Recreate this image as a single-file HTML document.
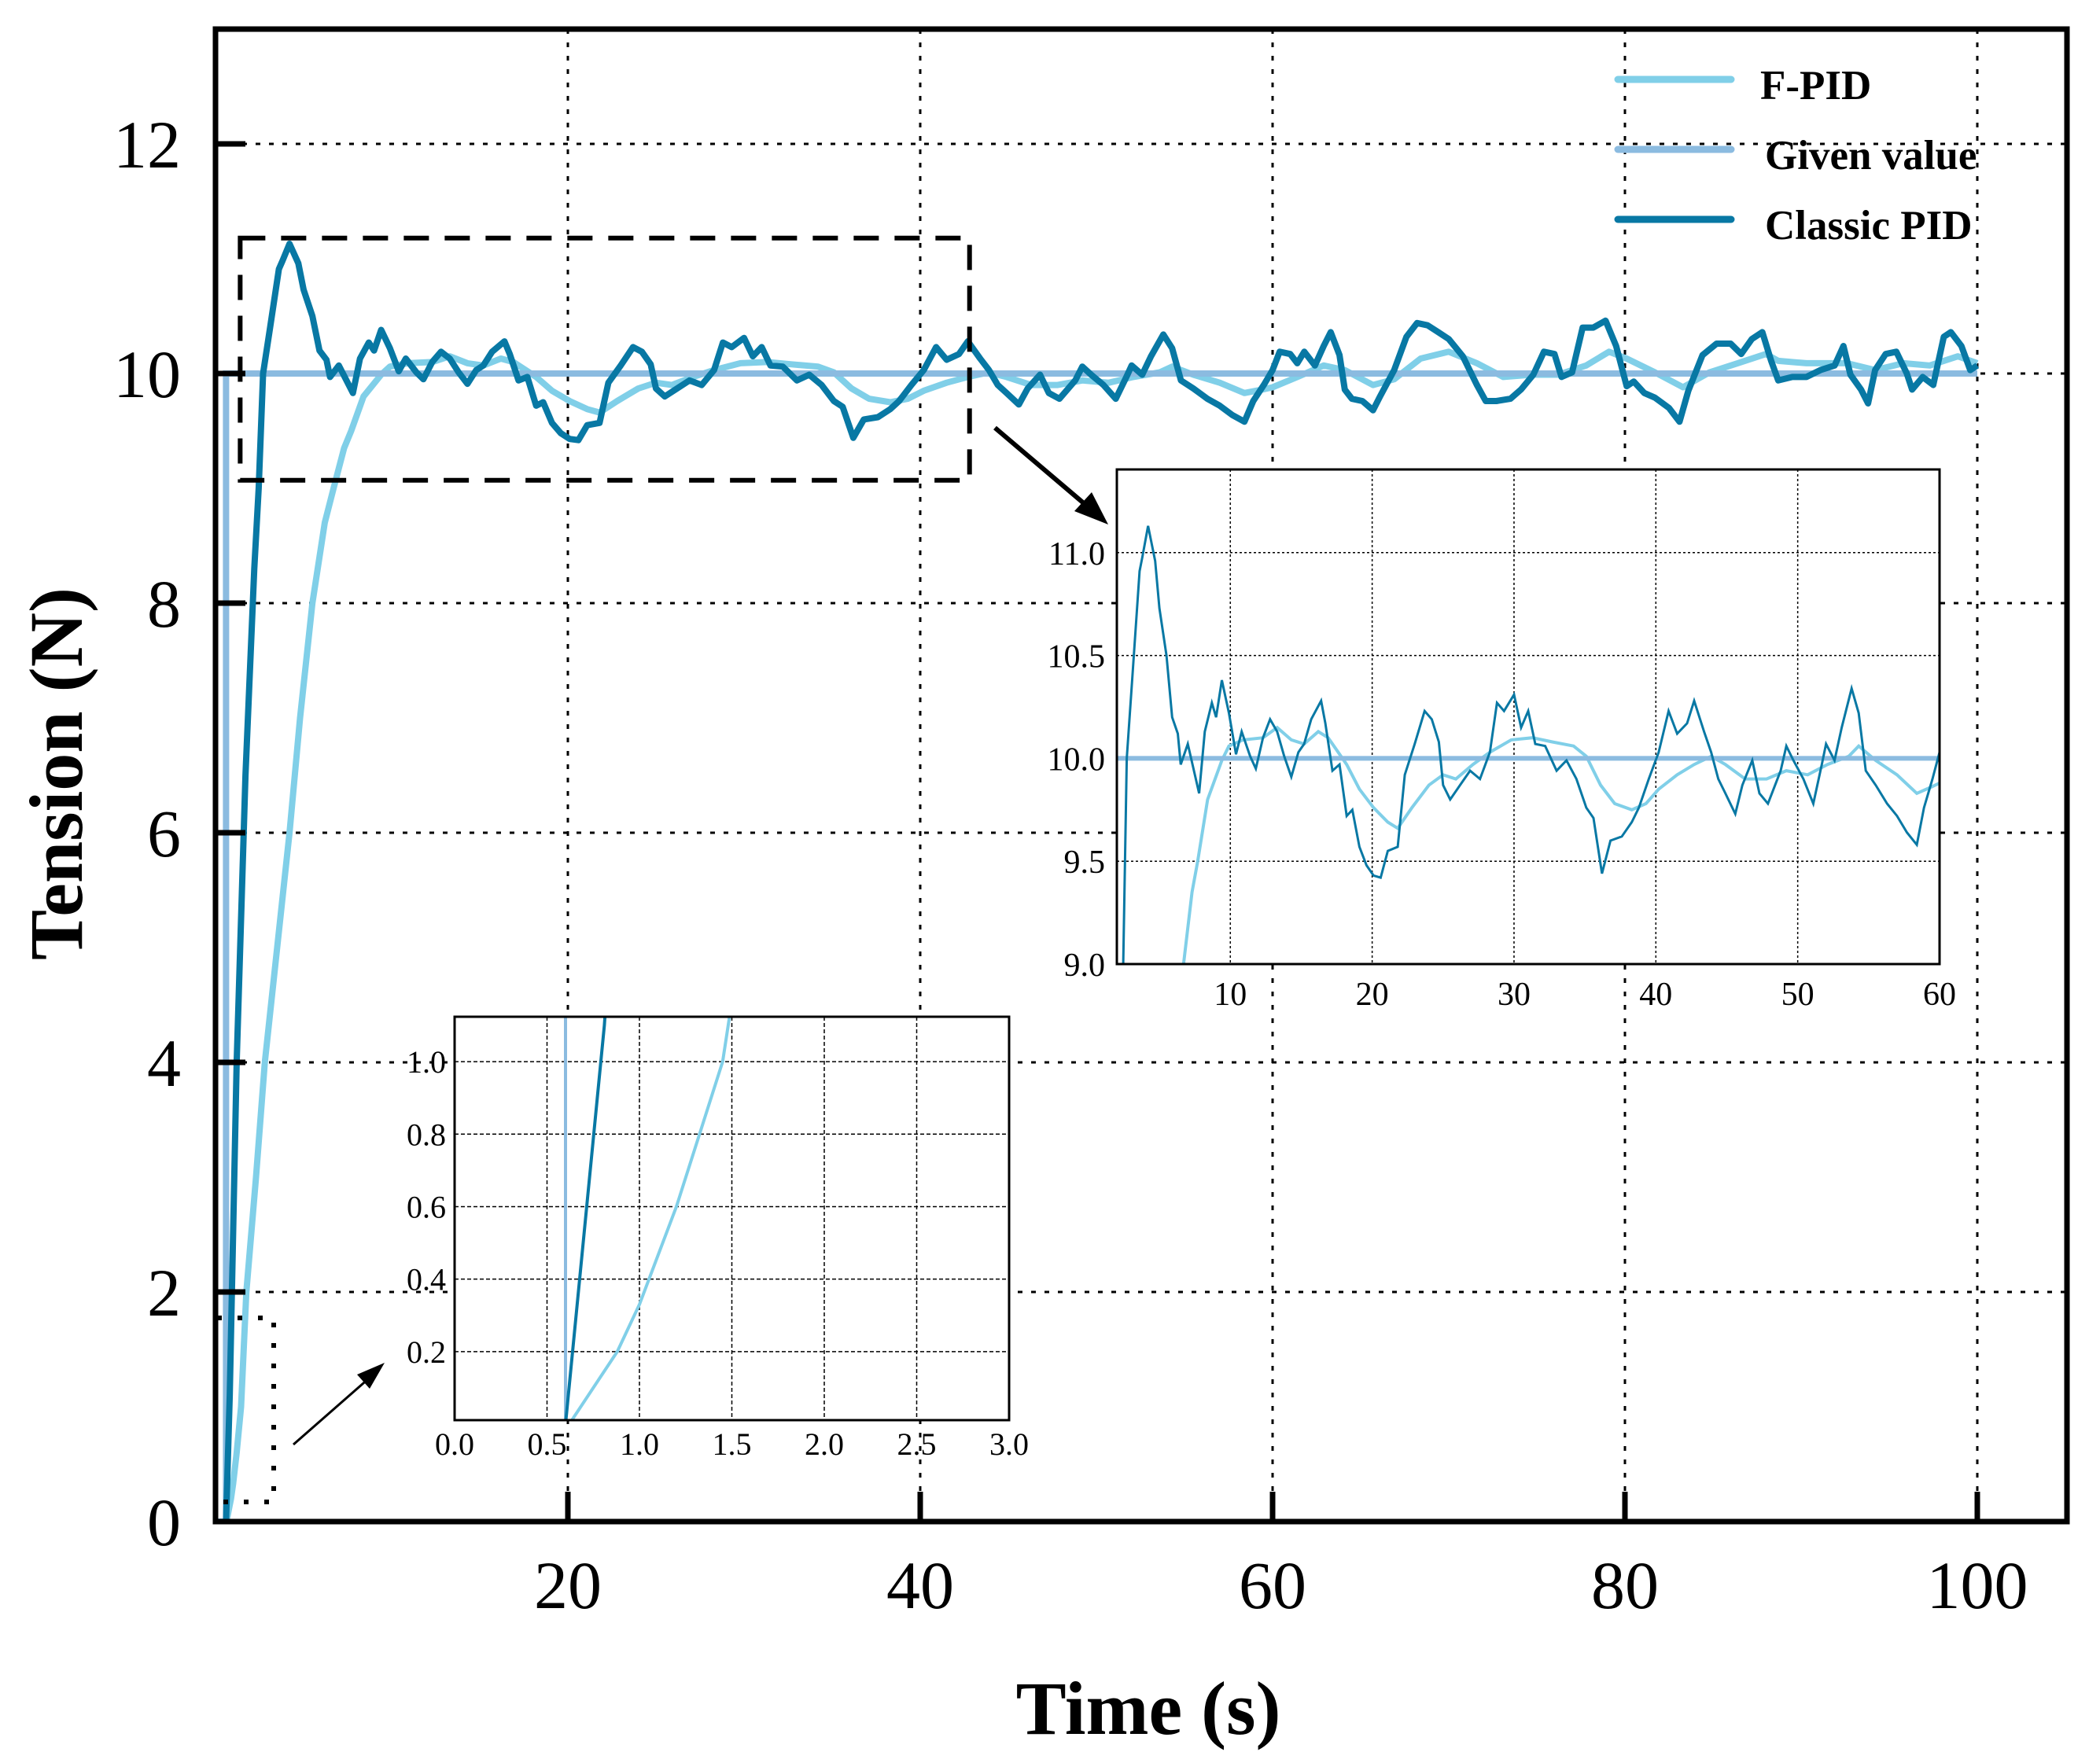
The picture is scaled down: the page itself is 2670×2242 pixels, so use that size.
<!DOCTYPE html>
<html><head><meta charset="utf-8"><style>
html,body{margin:0;padding:0;background:#fff;width:2670px;height:2242px;overflow:hidden;}
svg{display:block;}
text{font-family:"Liberation Serif",serif;fill:#000;}
</style></head>
<body>
<svg id="chart" width="2670" height="2242" viewBox="0 0 2670 2242" xmlns="http://www.w3.org/2000/svg"></svg>
<script>
// ---- data ----
const givenT = [0, 0.6, 0.6, 100];
const givenV = [0, 0, 10, 10];
const fpidT = [0.62,0.88,1.0,1.2,1.45,1.75,2.3,2.8,3.5,4.2,4.8,5.5,6.2,6.7,7.3,7.7,8.4,9.4,9.9,10.9,12.3,13.3,14.3,15.2,16.2,16.9,18.2,19.1,20.1,21.1,21.8,22.8,24.0,25.0,25.9,27.1,28.3,29.8,31.3,32.7,34.2,35.1,36.1,37.1,38.3,39.3,40.2,41.5,42.7,43.9,44.9,46.3,47.8,49.2,50.7,52.1,53.6,54.3,55.5,57.0,58.4,59.4,60,61.4,62.9,64.1,65.7,66.9,68.4,70.0,71.6,73.1,74.7,76.2,77.8,79.1,80.1,81.7,83.3,84.8,86.4,88.0,88.7,90.3,92.6,94.2,95.8,97.3,98.9,100];
const fpidV = [0,0.2,0.33,0.6,1.0,2,3,4,5,6,7,8,8.7,9.0,9.35,9.5,9.8,9.99,10.06,10.09,10.10,10.15,10.09,10.07,10.13,10.10,9.97,9.85,9.76,9.69,9.66,9.76,9.87,9.92,9.90,9.97,10.03,10.09,10.10,10.08,10.06,10.01,9.87,9.78,9.75,9.78,9.85,9.92,9.97,10.01,9.97,9.90,9.90,9.94,9.92,9.97,10.01,10.06,9.99,9.92,9.83,9.86,9.88,9.97,10.07,10.03,9.90,9.95,10.13,10.19,10.09,9.97,9.99,9.99,10.07,10.19,10.13,10.01,9.88,10.01,10.09,10.17,10.11,10.09,10.09,10.03,10.09,10.07,10.15,10.09];
const classicT = [0.6,0.81,1.2,1.7,2.2,2.45,2.7,3.1,3.6,3.8,4.2,4.7,5.0,5.5,5.9,6.3,6.5,7.0,7.5,7.8,8.2,8.7,9.0,9.4,9.9,10.4,10.8,11.4,11.8,12.3,12.8,13.3,13.8,14.3,14.8,15.2,15.7,16.4,16.7,17.2,17.7,18.2,18.6,19.1,19.6,20.1,20.6,21.1,21.8,22.3,23.0,23.7,24.2,24.7,25.0,25.5,26.2,26.9,27.6,28.3,28.8,29.3,30.0,30.5,31.0,31.5,32.2,33.0,33.7,34.4,35.1,35.6,36.2,36.8,37.6,38.3,38.8,39.5,40.2,40.9,41.5,42.2,42.7,43.4,43.9,44.4,44.9,45.6,46.1,46.8,47.3,47.9,48.8,49.2,49.7,50.4,51.1,51.7,52.0,52.6,53.1,53.8,54.3,54.8,55.5,56.3,57.0,57.7,58.4,58.9,59.5,60.0,60.4,61.0,61.4,61.8,62.4,62.9,63.3,63.8,64.1,64.5,65.1,65.7,66.1,66.9,67.6,68.2,68.8,69.4,70.0,70.8,71.6,72.1,72.7,73.5,74.1,74.8,75.4,76.0,76.4,77.0,77.6,78.2,78.9,79.5,80.1,80.5,81.1,81.7,82.5,83.1,83.6,84.4,85.2,86.0,86.6,87.2,87.8,88.3,88.7,89.5,90.3,91.1,91.9,92.4,92.8,93.4,93.8,94.2,94.8,95.4,96.0,96.3,96.9,97.5,98.1,98.5,99.1,99.6,100.0];
const classicV = [0,1.1,4,6.5,8.3,9.0,10.0,10.4,10.91,10.98,11.13,10.96,10.73,10.50,10.20,10.12,9.97,10.07,9.92,9.83,10.13,10.27,10.20,10.38,10.22,10.02,10.13,10.01,9.95,10.10,10.19,10.13,10.01,9.91,10.03,10.07,10.19,10.28,10.17,9.94,9.97,9.72,9.75,9.57,9.48,9.43,9.42,9.55,9.57,9.92,10.07,10.23,10.19,10.08,9.87,9.80,9.87,9.94,9.90,10.03,10.27,10.23,10.31,10.15,10.23,10.07,10.06,9.94,9.99,9.90,9.76,9.71,9.44,9.60,9.62,9.69,9.76,9.90,10.03,10.23,10.12,10.17,10.28,10.13,10.03,9.90,9.83,9.73,9.87,9.99,9.83,9.78,9.94,10.06,9.99,9.90,9.78,9.97,10.07,9.99,10.15,10.34,10.22,9.94,9.87,9.78,9.72,9.64,9.58,9.76,9.90,10.03,10.19,10.17,10.09,10.19,10.07,10.24,10.36,10.16,9.86,9.78,9.76,9.68,9.80,10.03,10.32,10.44,10.42,10.36,10.30,10.15,9.90,9.76,9.76,9.78,9.86,9.99,10.19,10.17,9.97,10.01,10.40,10.40,10.46,10.24,9.89,9.93,9.83,9.79,9.70,9.58,9.85,10.16,10.26,10.26,10.17,10.30,10.36,10.11,9.94,9.97,9.97,10.03,10.07,10.24,9.99,9.86,9.74,10.03,10.17,10.19,10.00,9.86,9.97,9.90,10.32,10.36,10.24,10.03,10.07];
const mainXTicks = [20,40,60,80,100];
const mainYTicks = [0,2,4,6,8,10,12];
const in1XTicks = [10,20,30,40,50,60];
const in1YTicks = [9.0,9.5,10.0,10.5,11.0];
const in2XTicks = [0.0,0.5,1.0,1.5,2.0,2.5,3.0];
const in2YTicks = [0.2,0.4,0.6,0.8,1.0];
const legendLabels = ["F-PID","Given value","Classic PID"];

const C_F = "#80cfe8", C_G = "#8bbbe0", C_C = "#0878a4";
const NS = "http://www.w3.org/2000/svg";
const svg = document.getElementById('chart');
function mk(tag, attrs, parent){const e=document.createElementNS(NS,tag);for(const k in attrs)e.setAttribute(k,attrs[k]);(parent||svg).appendChild(e);return e;}
function pts(T,V,X,Y){return T.map((t,i)=>X(t).toFixed(1)+","+Y(V[i]).toFixed(1)).join(" ");}

const defs = mk('defs',{});
function clip(id,x,y,w,h){const c=mk('clipPath',{id:id},defs);mk('rect',{x:x,y:y,width:w,height:h},c);}

// ---- main axes ----
const L=274,R=2628,T0=37,B=1935;
const X=v=>L+v*22.4, Y=v=>B-v*146;
clip('cm',L,T0,R-L,B-T0);
const gGrid = mk('g',{});


mainXTicks.forEach(t=>{mk('line',{x1:X(t),x2:X(t),y1:T0,y2:B,stroke:'#000','stroke-width':3,'stroke-dasharray':'6 11'},gGrid);});
mainYTicks.forEach(t=>{if(t>0)mk('line',{x1:L,x2:R,y1:Y(t),y2:Y(t),stroke:'#000','stroke-width':3,'stroke-dasharray':'6 11'},gGrid);});

const gS = mk('g',{'clip-path':'url(#cm)'});


let p;
p=mk('polyline',{points:pts(fpidT,fpidV,X,Y),fill:'none',stroke:C_F,'stroke-width':8,'stroke-linejoin':'round'},gS);


p=mk('polyline',{points:pts(givenT,givenV,X,Y),fill:'none',stroke:C_G,'stroke-width':8},gS);


p=mk('polyline',{points:pts(classicT,classicV,X,Y),fill:'none',stroke:C_C,'stroke-width':8,'stroke-linejoin':'round'},gS);



// zoom rectangles and arrows
p=mk('rect',{x:X(1.4),y:Y(11.18),width:X(42.8)-X(1.4),height:Y(9.07)-Y(11.18),fill:'none',stroke:'#000','stroke-width':6,'stroke-dasharray':'32 20'});


p=mk('path',{d:`M${L+2},1676 H348 V1910 H${L+2}`,fill:'none',stroke:'#000','stroke-width':6,'stroke-dasharray':'6 20'});


mk('line',{x1:1265,y1:544,x2:1385,y2:646,stroke:'#000','stroke-width':6});
p=mk('polygon',{points:'1409,667 1366,650 1388,626',fill:'#000'});


mk('line',{x1:373,y1:1837,x2:470,y2:1752,stroke:'#000','stroke-width':3});
p=mk('polygon',{points:'489,1733 454,1748 470,1766',fill:'#000'});



// main spines & ticks
mk('rect',{x:L,y:T0,width:R-L,height:B-T0,fill:'none',stroke:'#000','stroke-width':7});
mainXTicks.forEach(t=>{mk('line',{x1:X(t),x2:X(t),y1:B,y2:B-38,stroke:'#000','stroke-width':7});
 const e=mk('text',{x:X(t),y:2045,'text-anchor':'middle','font-size':86});e.textContent=t;
 
 });
mainYTicks.forEach(t=>{mk('line',{x1:L,x2:L+38,y1:Y(t),y2:Y(t),stroke:'#000','stroke-width':7});
 const e=mk('text',{x:230,y:Y(t)+30,'text-anchor':'end','font-size':86});e.textContent=t;
 
 });
let e=mk('text',{x:1460,y:2205,'text-anchor':'middle','font-size':96,'font-weight':'bold'});e.textContent='Time (s)';


e=mk('text',{x:0,y:0,'text-anchor':'middle','font-size':96,'font-weight':'bold',transform:'translate(104,984) rotate(-90)'});e.textContent='Tension (N)';



// legend
const legCols=[C_F,C_G,C_C], legY=[101,190,279];
legendLabels.forEach((lab,i)=>{
 const g=mk('g',{});
 
 
 mk('line',{x1:2057,x2:2201,y1:legY[i],y2:legY[i],stroke:legCols[i],'stroke-width':9,'stroke-linecap':'round'},g);
 const t=mk('text',{x:i==0?2238:2244,y:legY[i]+25,'font-size':53,'font-weight':'bold'},g);t.textContent=lab;
});

// ---- inset 1 ----
const aL=1420,aR=2466,aT=597,aB=1226;
const X1=v=>aL+(v-2)*(aR-aL)/58, Y1=v=>aB-(v-9)*261.6;
clip('c1',aL,aT,aR-aL,aB-aT);
const g1=mk('g',{});


mk('rect',{x:aL,y:aT,width:aR-aL,height:aB-aT,fill:'#fff'},g1);
in1XTicks.forEach(t=>{if(t<60)mk('line',{x1:X1(t),x2:X1(t),y1:aT,y2:aB,stroke:'#000','stroke-width':1.5,'stroke-dasharray':'3 3'},g1);
 const tx=mk('text',{x:X1(t),y:1278,'text-anchor':'middle','font-size':42},g1);tx.textContent=t;});
in1YTicks.forEach(t=>{if(t>9)mk('line',{x1:aL,x2:aR,y1:Y1(t),y2:Y1(t),stroke:'#000','stroke-width':1.5,'stroke-dasharray':'3 3'},g1);
 const tx=mk('text',{x:1405,y:Y1(t)+15,'text-anchor':'end','font-size':42},g1);tx.textContent=t.toFixed(1);});
const g1s=mk('g',{'clip-path':'url(#c1)'},g1);
mk('polyline',{points:pts(fpidT,fpidV,X1,Y1),fill:'none',stroke:C_F,'stroke-width':4},g1s);
mk('polyline',{points:pts(givenT,givenV,X1,Y1),fill:'none',stroke:C_G,'stroke-width':6},g1s);
mk('polyline',{points:pts(classicT,classicV,X1,Y1),fill:'none',stroke:C_C,'stroke-width':3},g1s);
mk('rect',{x:aL,y:aT,width:aR-aL,height:aB-aT,fill:'none',stroke:'#000','stroke-width':3},g1);

// ---- inset 2 ----
const bL=578,bR=1283,bT=1293,bB=1806;
const X2=v=>bL+v*(bR-bL)/3, Y2=v=>bB-(v-0.011)*461;
clip('c2',bL,bT,bR-bL,bB-bT);
const g2=mk('g',{});


mk('rect',{x:bL,y:bT,width:bR-bL,height:bB-bT,fill:'#fff'},g2);
in2XTicks.forEach(t=>{if(t>0&&t<3)mk('line',{x1:X2(t),x2:X2(t),y1:bT,y2:bB,stroke:'#000','stroke-width':1.5,'stroke-dasharray':'5 3'},g2);
 const tx=mk('text',{x:X2(t),y:1850,'text-anchor':'middle','font-size':40},g2);tx.textContent=t.toFixed(1);});
in2YTicks.forEach(t=>{mk('line',{x1:bL,x2:bR,y1:Y2(t),y2:Y2(t),stroke:'#000','stroke-width':1.5,'stroke-dasharray':'5 3'},g2);
 const tx=mk('text',{x:567,y:Y2(t)+14,'text-anchor':'end','font-size':40},g2);tx.textContent=t.toFixed(1);});
const g2s=mk('g',{'clip-path':'url(#c2)'},g2);
mk('polyline',{points:pts(fpidT,fpidV,X2,Y2),fill:'none',stroke:C_F,'stroke-width':4},g2s);
mk('polyline',{points:pts(givenT,givenV,X2,Y2),fill:'none',stroke:C_G,'stroke-width':4},g2s);
mk('polyline',{points:pts(classicT,classicV,X2,Y2),fill:'none',stroke:C_C,'stroke-width':4},g2s);
mk('rect',{x:bL,y:bT,width:bR-bL,height:bB-bT,fill:'none',stroke:'#000','stroke-width':3},g2);
</script>
</body></html>
